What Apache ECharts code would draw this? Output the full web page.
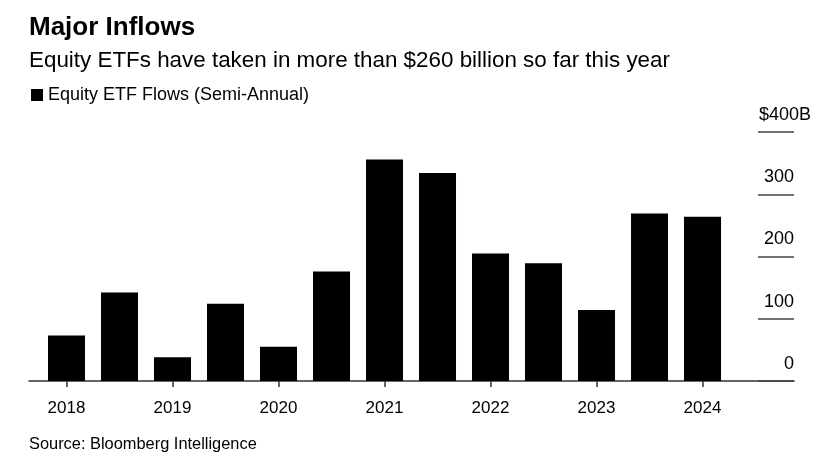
<!DOCTYPE html>
<html>
<head>
<meta charset="utf-8">
<script src="https://cdn.jsdelivr.net/npm/echarts@6/dist/echarts.min.js"></script>
<style>
  html, body { margin: 0; padding: 0; background: #fff; }
  #chart { width: 829px; height: 462px; }
</style>
</head>
<body>
<div id="chart"></div>
<script>
// semi-annual periods, in order
const periods = [
  "2018 H1", "2018 H2", "2019 H1", "2019 H2", "2020 H1", "2020 H2",
  "2021 H1", "2021 H2", "2022 H1", "2022 H2", "2023 H1", "2023 H2", "2024 H1",
];
// equity ETF flows, $ billions
const flows = [73, 142, 38, 124, 55, 176, 356, 334, 205, 189, 114, 269, 264];
const yTicks = [0, 100, 200, 300, 400];

const font = "Liberation Sans";
const chart = echarts.init(document.getElementById("chart"));

// year labels sit under the first half of each year
const yearTicks = periods
  .map((p, i) => (p.endsWith("H1") ? i : null))
  .filter((i) => i !== null);

const option = {
  animation: false,
  textStyle: { fontFamily: font },
  title: [
    {
      text: "Major Inflows",
      left: 24,
      top: 10,
      textStyle: { fontSize: 26, fontWeight: "bold", color: "#000", fontFamily: font },
    },
    {
      text: "Equity ETFs have taken in more than $260 billion so far this year",
      left: 24,
      top: 45,
      textStyle: { fontSize: 22.4, fontWeight: "normal", color: "#000", fontFamily: font },
    },
    {
      text: "Source: Bloomberg Intelligence",
      left: 24,
      top: 431,
      textStyle: { fontSize: 16.4, fontWeight: "normal", color: "#000", fontFamily: font },
    },
  ],
  legend: {
    left: 26,
    top: 81,
    icon: "rect",
    itemWidth: 12,
    itemHeight: 12,
    itemGap: 6,
    textStyle: { fontSize: 18, color: "#000", fontFamily: font },
    data: ["Equity ETF Flows (Semi-Annual)"],
  },
  grid: { left: 29, right: 35, top: 132, bottom: 81, containLabel: false },
  xAxis: {
    type: "value",
    min: -0.7075,
    max: 13.726,
    splitLine: { show: false },
    axisLine: { show: true, onZero: false, lineStyle: { color: "#333", width: 1.5 } },
    axisTick: {
      show: true,
      customValues: yearTicks,
      length: 6,
      lineStyle: { color: "#333", width: 1.5 },
    },
    axisLabel: {
      customValues: yearTicks,
      margin: 19,
      fontSize: 17,
      color: "#000",
      fontFamily: font,
      formatter: (v) => periods[Math.round(v)].slice(0, 4),
    },
  },
  yAxis: {
    type: "value",
    position: "right",
    min: 0,
    max: 400,
    interval: 100,
    splitLine: { show: false },
    axisLine: { show: false, onZero: false },
    axisTick: { show: true, inside: true, length: 36, lineStyle: { color: "#444", width: 1.5 } },
    axisLabel: {
      inside: true,
      margin: -17,
      align: "right",
      verticalAlign: "bottom",
      padding: [0, 0, 8, 0],
      fontSize: 18,
      color: "#000",
      fontFamily: font,
      formatter: (v) => (v === yTicks[yTicks.length - 1] ? "$" + v + "B" : "{n|" + v + "}{gap| }"),
      rich: {
        n: { fontSize: 18, color: "#000", fontFamily: font },
        gap: { width: 17, fontSize: 18 },
      },
    },
  },
  series: [
    {
      name: "Equity ETF Flows (Semi-Annual)",
      type: "bar",
      barWidth: 37,
      itemStyle: { color: "#000" },
      data: flows.map((v, i) => [i, v]),
    },
  ],
};

chart.setOption(option);
</script>
</body>
</html>
